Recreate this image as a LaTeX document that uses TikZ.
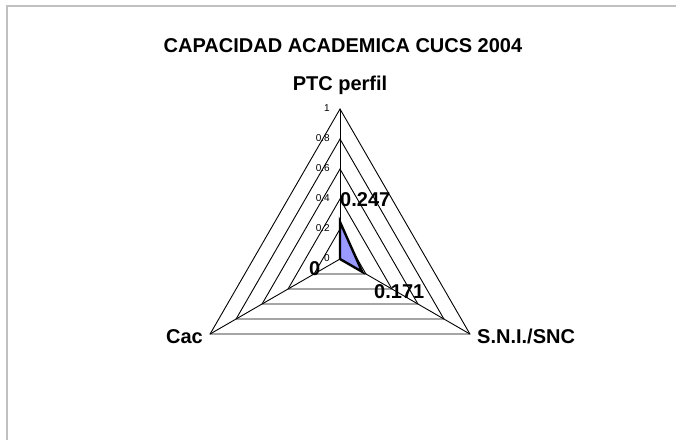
\documentclass[tikz,border=0pt]{standalone}
\usepackage{fontspec}
\setmainfont{Liberation Sans}
\usepackage{xcolor}
\usepackage{tikz}
\usetikzlibrary{calc}

\definecolor{seriesfill}{HTML}{9999FF}
\definecolor{framegray}{HTML}{C0C0C0}

\begin{document}
\begin{tikzpicture}[x=1pt, y=-1pt,
    gridline/.style={black, line width=0.9pt},
    ticklabel/.style={font=\fontsize{10}{10}\selectfont, anchor=east, inner sep=0pt},
    catlabel/.style={font=\bfseries\fontsize{20}{20}\selectfont, inner sep=0pt},
    vallabel/.style={font=\bfseries\fontsize{20}{20}\selectfont, inner sep=0pt, anchor=base west}]
    \useasboundingbox (0,0) rectangle (676,440);

    % Chart frame (only top and left edges show)
    \draw[framegray, line width=2pt] (7,440) -- (7,6) -- (676,6);

    % Centre and axis ends (radius 150)
    \coordinate (ctr) at (340,259);
    \coordinate (ptc) at ($(ctr)+(0,-150)$);
    \coordinate (sni) at ($(ctr)+(129.9,75)$);
    \coordinate (cac) at ($(ctr)+(-129.9,75)$);

    % Grid triangles, one per 0.2 step
    \foreach \r in {30,60,90,120,150} {
        \pgfmathsetmacro{\dx}{0.866*\r}
        \pgfmathsetmacro{\dy}{0.5*\r}
        \draw[gridline] ($(ctr)+(0,-\r)$) -- ($(ctr)+(\dx,\dy)$) -- ($(ctr)+(-\dx,\dy)$) -- cycle;
    }

    % Spokes
    \draw[gridline] (ctr) -- (ptc);
    \draw[gridline] (ctr) -- (sni);
    \draw[gridline] (ctr) -- (cac);

    % Scale labels on the top axis
    \foreach \r/\t in {0/0, 30/0.2, 60/0.4, 90/0.6, 120/0.8, 150/1} {
        \node[ticklabel] at ($(ctr)+(-10,-\r-1)$) {\t};
    }

    % Data series: 0.247, 0.171, 0
    \coordinate (dptc) at ($(ctr)+(0,-37.05)$);
    \coordinate (dsni) at ($(ctr)+(22.2,12.8)$);
    \draw[black, line width=2.4pt, line join=miter, fill=seriesfill] (dptc) -- (dsni) -- (ctr) -- cycle;

    % Data labels
    \node[vallabel] (v1) at (340,206) {0.247};
    \node[vallabel] (v2) at (374,298) {0.171};
    \node[vallabel] (v3) at (309,275) {0};

    % Title and category labels
    \node[catlabel, anchor=base] (title) at (343,52) {CAPACIDAD ACADEMICA CUCS 2004};
    \node[catlabel, anchor=base] (lptc) at (340,90) {PTC perfil};
    \node[catlabel, anchor=base east] (lcac) at (203,343) {Cac};
    \node[catlabel, anchor=base west] (lsni) at (477,343) {S.N.I./SNC};
\end{tikzpicture}
\end{document}
